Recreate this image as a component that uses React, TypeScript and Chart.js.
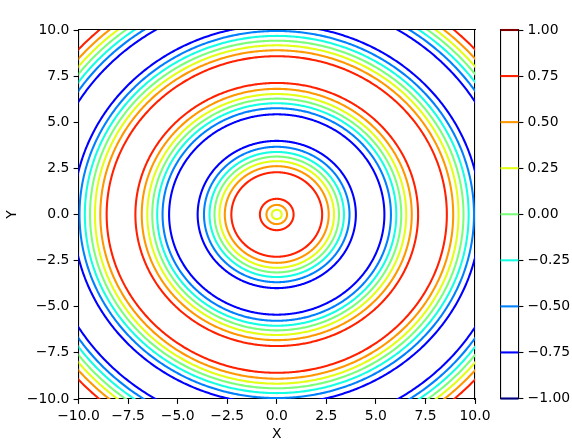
import React, { useEffect, useRef } from "react";
import { Chart, registerables } from "chart.js";

Chart.register(...registerables);

// Contour levels of z = sin(sqrt(x^2 + y^2)) and the colours of each level (jet colormap)
const levels = [-1, -0.75, -0.5, -0.25, 0, 0.25, 0.5, 0.75, 1];
const levelColors = [
  "#000080",
  "#0000ff",
  "#0080ff",
  "#15ffe2",
  "#7bff7b",
  "#e2ff15",
  "#ff9700",
  "#ff2100",
  "#800000",
];
// Radii at which each level's circular contour lies
const levelRadii: number[][] = [
  [],
  [3.99, 5.43, 10.27, 11.72],
  [3.67, 5.76, 9.95, 12.04],
  [3.39, 6.03, 9.68, 12.31],
  [3.14, 6.28, 9.42, 12.57],
  [0.25, 2.89, 6.53, 9.17, 12.82],
  [0.52, 2.62, 6.81, 8.9, 13.09],
  [0.85, 2.29, 7.13, 8.58, 13.42],
  [],
];
const axisTicks = [-10, -7.5, -5, -2.5, 0, 2.5, 5, 7.5, 10];
const colorbarTicks = [-1, -0.75, -0.5, -0.25, 0, 0.25, 0.5, 0.75, 1];

const FONT = "'DejaVu Sans', sans-serif";
const FS = 13.9;
const LW = 2.08;
const fmt = (v: number, d: number) => v.toFixed(d).replace("-", "\u2212");

function circle(r: number) {
  const pts: { x: number; y: number }[] = [];
  const n = 360;
  for (let i = 0; i <= n; i++) {
    const a = (i / n) * Math.PI * 2;
    pts.push({ x: r * Math.cos(a), y: r * Math.sin(a) });
  }
  return pts;
}

const borderAxis = (position: string, horizontal: boolean) => ({
  type: "linear",
  position,
  min: -10,
  max: 10,
  ticks: { display: false },
  grid: { display: false },
  border: { display: true, color: "#000", width: 1.1 },
  afterFit: (s: any) => {
    if (horizontal) s.height = 0;
    else s.width = 0;
  },
});

export default function App() {
  const mainRef = useRef<HTMLCanvasElement>(null);
  const cbRef = useRef<HTMLCanvasElement>(null);

  useEffect(() => {
    const datasets: any[] = [];
    levels.forEach((lv, i) => {
      levelRadii[i].forEach((r) => {
        datasets.push({
          label: String(lv),
          data: circle(r),
          showLine: true,
          borderColor: levelColors[i],
          borderWidth: LW,
          pointRadius: 0,
          fill: false,
          tension: 0.0001,
          clip: 0,
        });
      });
    });

    const tickOpts = (d: number) => ({
      color: "#000",
      font: { family: FONT, size: FS },
      padding: 4.2,
      autoSkip: false,
      maxRotation: 0,
      callback: (v: any) => fmt(Number(v), d),
    });
    const gridOpts = {
      display: true,
      drawOnChartArea: false,
      drawTicks: true,
      tickLength: 4.9,
      tickColor: "#000",
      tickWidth: 1.1,
    };

    const main = new Chart(mainRef.current!, {
      type: "scatter",
      data: { datasets },
      options: {
        animation: false,
        responsive: false,
        events: [],
        layout: { padding: { left: 0, top: 30, right: 97, bottom: 0 } },
        plugins: { legend: { display: false }, tooltip: { enabled: false } },
        scales: {
          x: {
            type: "linear",
            position: "bottom",
            min: -10,
            max: 10,
            afterBuildTicks: (s: any) => {
              s.ticks = axisTicks.map((v) => ({ value: v }));
            },
            ticks: tickOpts(1),
            grid: gridOpts,
            border: { display: true, color: "#000", width: 1.1 },
            title: {
              display: true,
              text: "X",
              color: "#000",
              font: { family: FONT, size: FS },
              padding: { top: 0, bottom: 4.6 },
            },
            afterFit: (s: any) => {
              s.height = 48;
            },
          },
          y: {
            type: "linear",
            position: "left",
            min: -10,
            max: 10,
            afterBuildTicks: (s: any) => {
              s.ticks = axisTicks.map((v) => ({ value: v }));
            },
            ticks: tickOpts(1),
            grid: gridOpts,
            border: { display: true, color: "#000", width: 1.1 },
            title: {
              display: true,
              text: "Y",
              color: "#000",
              font: { family: FONT, size: FS },
              padding: { top: 3.6, bottom: 0 },
            },
            afterFit: (s: any) => {
              s.width = 78.5;
            },
          },
          x2: borderAxis("top", true) as any,
          y2: borderAxis("right", false) as any,
        },
      } as any,
    });

    const cbDatasets = levels.map((lv, i) => ({
      label: String(lv),
      data: [
        { x: 0, y: lv },
        { x: 1, y: lv },
      ],
      showLine: true,
      borderColor: levelColors[i],
      borderWidth: LW,
      pointRadius: 0,
      clip: false,
    }));

    const cb = new Chart(cbRef.current!, {
      type: "scatter",
      data: { datasets: cbDatasets },
      options: {
        animation: false,
        responsive: false,
        events: [],
        layout: { padding: { left: 20.5, top: 30, right: 0, bottom: 48.5 } },
        plugins: { legend: { display: false }, tooltip: { enabled: false } },
        scales: {
          x: {
            type: "linear",
            position: "bottom",
            min: 0,
            max: 1,
            ticks: { display: false },
            grid: { display: false },
            border: { display: true, color: "#000", width: 1.1 },
            afterFit: (s: any) => {
              s.height = 0;
            },
          },
          xt: {
            type: "linear",
            position: "top",
            min: 0,
            max: 1,
            ticks: { display: false },
            grid: { display: false },
            border: { display: true, color: "#000", width: 1.1 },
            afterFit: (s: any) => {
              s.height = 0;
            },
          },
          yl: {
            type: "linear",
            position: "left",
            min: -1,
            max: 1,
            ticks: { display: false },
            grid: { display: false },
            border: { display: true, color: "#000", width: 1.1 },
            afterFit: (s: any) => {
              s.width = 0;
            },
          },
          y: {
            type: "linear",
            position: "right",
            min: -1,
            max: 1,
            afterBuildTicks: (s: any) => {
              s.ticks = colorbarTicks.map((v) => ({ value: v }));
            },
            ticks: tickOpts(2),
            grid: gridOpts,
            border: { display: true, color: "#000", width: 1.1 },
            afterFit: (s: any) => {
              s.width = 53.5;
            },
          },
        },
      } as any,
    });

    return () => {
      main.destroy();
      cb.destroy();
    };
  }, []);

  return (
    <div
      style={{
        position: "absolute",
        left: 0,
        top: 0,
        width: 572,
        height: 447,
        background: "#fff",
      }}
    >
      <canvas
        ref={mainRef}
        width={572}
        height={447}
        style={{ position: "absolute", left: 0, top: 0 }}
      />
      <canvas
        ref={cbRef}
        width={92}
        height={447}
        style={{ position: "absolute", left: 480, top: 0 }}
      />
    </div>
  );
}
